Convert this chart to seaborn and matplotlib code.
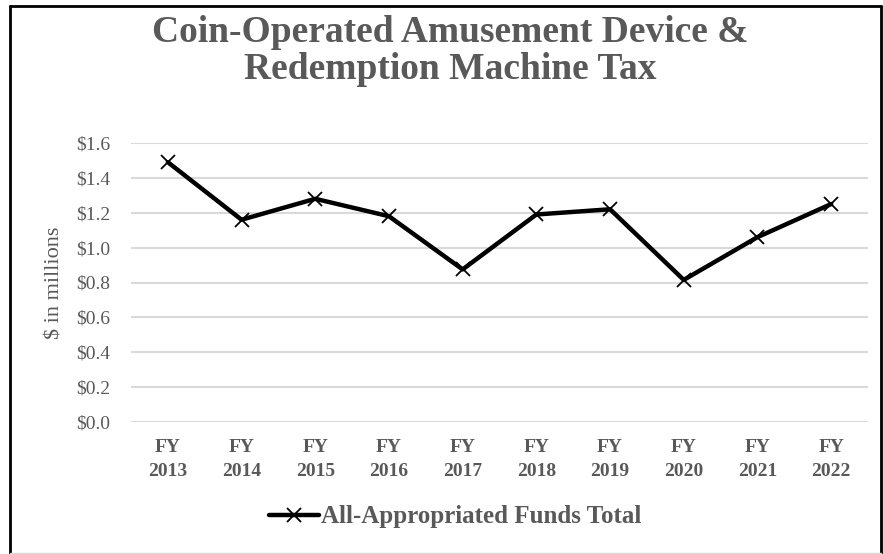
import pandas as pd
import seaborn as sns
import matplotlib.pyplot as plt
from matplotlib.lines import Line2D

# Data ($ millions)
years = ["FY\n2013", "FY\n2014", "FY\n2015", "FY\n2016", "FY\n2017",
         "FY\n2018", "FY\n2019", "FY\n2020", "FY\n2021", "FY\n2022"]
totals = [1.49, 1.16, 1.28, 1.18, 0.875, 1.19, 1.22, 0.815, 1.06, 1.25]
y_ticks = [0.0, 0.2, 0.4, 0.6, 0.8, 1.0, 1.2, 1.4, 1.6]
series_name = "All-Appropriated Funds Total"

df = pd.DataFrame({"year": years, "total": totals})

sns.set_style("white")
plt.rcParams["font.family"] = ["Liberation Serif", "DejaVu Serif"]
grey = "#595959"

fig = plt.figure(figsize=(8.83, 5.54), dpi=100)
ax = fig.add_axes([131 / 883, 1 - 422 / 554, (868 - 131) / 883, (422 - 143) / 554])

sns.lineplot(data=df, x="year", y="total", ax=ax, color="black", linewidth=3.2,
             marker="x", markersize=10, markeredgewidth=1.3, markeredgecolor="black",
             label=series_name, sort=False)

ax.set_xlim(-0.5, len(years) - 0.5)
ax.set_ylim(0, 1.6)
ax.set_yticks(y_ticks)
ax.set_yticklabels([f"${v:.1f}" for v in y_ticks], fontsize=14, color=grey)
ax.set_xticks(range(len(years)))
ax.set_xticklabels(years, fontsize=14, fontweight="bold", color=grey, linespacing=1.55)
ax.tick_params(axis="y", length=0, pad=15)
ax.tick_params(axis="x", length=0, pad=12)
ax.grid(axis="y", color="#d9d9d9", linewidth=1.5)
ax.set_axisbelow(True)
for s in ax.spines.values():
    s.set_visible(False)
ax.set_xlabel("")
ax.set_ylabel("$ in millions", fontsize=16, color=grey, labelpad=8)

leg = ax.legend(loc="center", bbox_to_anchor=(455 / 883, 1 - 517 / 554),
                bbox_transform=fig.transFigure, frameon=False, handlelength=2.0,
                handletextpad=0.1, prop={"weight": "bold", "size": 18})
for t in leg.get_texts():
    t.set_color(grey)

fig.text(450 / 883, 1 - 51 / 554,
         "Coin-Operated Amusement Device &\nRedemption Machine Tax",
         ha="center", va="center", fontsize=27, fontweight="bold", color=grey,
         linespacing=1.1)

# chart border
fig.add_artist(Line2D([10 / 883, 10 / 883], [1 - 6 / 554, 0], transform=fig.transFigure, color="black", linewidth=2))
fig.add_artist(Line2D([10 / 883, 881 / 883], [1 - 6 / 554, 1 - 6 / 554], transform=fig.transFigure, color="black", linewidth=2))
fig.add_artist(Line2D([881 / 883, 881 / 883], [1 - 6 / 554, 0], transform=fig.transFigure, color="black", linewidth=2))
fig.add_artist(Line2D([10 / 883, 881 / 883], [1 - 553 / 554, 1 - 553 / 554], transform=fig.transFigure, color="#d9d9d9", linewidth=1))

fig.savefig("out.png", dpi=100)
